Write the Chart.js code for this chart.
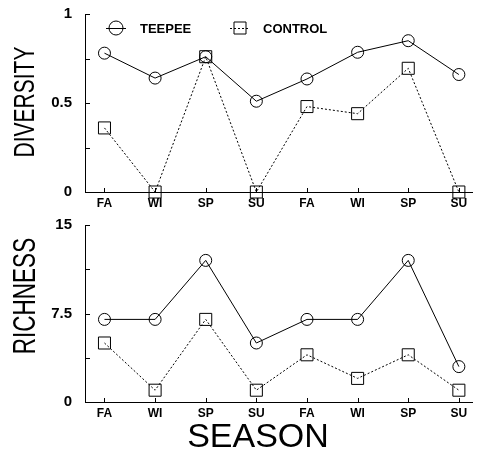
<!DOCTYPE html>
<html>
<head>
<meta charset="utf-8">
<title>Teepee vs Control</title>
<script src="https://cdn.jsdelivr.net/npm/chart.js@4.4.0/dist/chart.umd.min.js"></script>
<style>
  html, body { margin: 0; padding: 0; background: #fff; }
  .panel { position: relative; width: 482px; }
  #top-panel { height: 215px; }
  #bottom-panel { height: 237px; }
</style>
</head>
<body>
<div class="panel" id="top-panel"><canvas id="diversity-chart"></canvas></div>
<div class="panel" id="bottom-panel"><canvas id="richness-chart"></canvas></div>
<script>
// data
const seasons = ['FA', 'WI', 'SP', 'SU', 'FA', 'WI', 'SP', 'SU'];
const teepeeDiversity = [0.78, 0.64, 0.76, 0.51, 0.635, 0.785, 0.85, 0.66];
const controlDiversity = [0.36, 0, 0.76, 0, 0.48, 0.44, 0.695, 0];
const teepeeRichness = [7, 7, 12, 5, 7, 7, 12, 3];
const controlRichness = [5, 1, 7, 1, 4, 2, 4, 1];
const diversityTicks = [0, 0.25, 0.5, 0.75, 1];
const diversityLabels = ['0', '', '0.5', '', '1'];
const richnessTicks = [0, 3.75, 7.5, 11.25, 15];
const richnessLabels = ['0', '', '7.5', '', '15'];

const FONT = '"Liberation Sans", Arial, Helvetica, sans-serif';

// small inward tick marks on both axes
const inwardTicks = {
  id: 'inwardTicks',
  afterDatasetsDraw(chart) {
    const { ctx, chartArea, scales } = chart;
    ctx.save();
    ctx.strokeStyle = '#000';
    ctx.lineWidth = 1;
    ctx.beginPath();
    scales.y.ticks.forEach(t => {
      const y = Math.round(scales.y.getPixelForValue(t.value)) + 0.5;
      ctx.moveTo(chartArea.left, y);
      ctx.lineTo(chartArea.left + 5, y);
    });
    scales.x.ticks.forEach(t => {
      const x = Math.round(scales.x.getPixelForValue(t.value)) + 0.5;
      ctx.moveTo(x, chartArea.bottom);
      ctx.lineTo(x, chartArea.bottom - 4);
    });
    ctx.stroke();
    ctx.restore();
  }
};

// legend drawn inside the plot area, like the original figure
const insideLegend = {
  id: 'insideLegend',
  afterDraw(chart, args, opts) {
    if (!opts.items) return;
    const ctx = chart.ctx;
    const y = opts.y;
    ctx.save();
    chart.data.datasets.forEach((ds, i) => {
      const item = opts.items[i];
      ctx.strokeStyle = '#000';
      ctx.lineWidth = 1;
      ctx.setLineDash(ds.borderDash || []);
      ctx.beginPath();
      ctx.moveTo(item.x - 10, y + 0.5);
      ctx.lineTo(item.x + 10, y + 0.5);
      ctx.stroke();
      ctx.setLineDash([]);
      ctx.beginPath();
      if (ds.pointStyle === 'rect') {
        ctx.rect(item.x - 6, y - 6, 12, 12);
      } else {
        ctx.arc(item.x, y, 7, 0, Math.PI * 2);
      }
      ctx.stroke();
      ctx.fillStyle = '#000';
      ctx.font = 'bold 13px ' + FONT;
      ctx.textBaseline = 'middle';
      ctx.fillText(ds.label, item.textX, y + 1);
    });
    ctx.restore();
  }
};

// axis captions (DIVERSITY / RICHNESS / SEASON), placed as in the figure
const axisCaptions = {
  id: 'axisCaptions',
  afterDraw(chart, args, opts) {
    if (!opts.list) return;
    const ctx = chart.ctx;
    ctx.save();
    ctx.fillStyle = '#000';
    ctx.textAlign = 'center';
    ctx.textBaseline = 'middle';
    opts.list.forEach(c => {
      ctx.save();
      ctx.translate(c.x, c.y);
      if (c.rotate) ctx.rotate(-Math.PI / 2);
      ctx.scale(1, c.stretch || 1);
      ctx.font = c.size + 'px ' + FONT;
      ctx.fillText(c.text, 0, 0);
      ctx.restore();
    });
    ctx.restore();
  }
};

function makeDatasets(teepee, control) {
  return [
    {
      label: 'TEEPEE',
      data: teepee.map((v, i) => ({ x: i, y: v })),
      borderColor: '#000',
      borderWidth: 1,
      pointStyle: 'circle',
      pointRadius: 6,
      pointBorderColor: '#000',
      pointBackgroundColor: 'rgba(0,0,0,0)',
      pointBorderWidth: 1,
      clip: false
    },
    {
      label: 'CONTROL',
      data: control.map((v, i) => ({ x: i, y: v })),
      borderColor: '#000',
      borderWidth: 1,
      borderDash: [2, 2],
      pointStyle: 'rect',
      pointRadius: 8.5,
      pointBorderColor: '#000',
      pointBackgroundColor: 'rgba(0,0,0,0)',
      pointBorderWidth: 1,
      clip: false
    }
  ];
}

function buildChart(canvasId, cfg) {
  return new Chart(document.getElementById(canvasId), {
    type: 'line',
    data: { datasets: makeDatasets(cfg.teepee, cfg.control) },
    options: {
      responsive: true,
      maintainAspectRatio: false,
      animation: false,
      layout: { padding: { top: cfg.padTop, right: 0, left: 0, bottom: 0 } },
      plugins: {
        legend: { display: false },
        tooltip: { enabled: false },
        insideLegend: cfg.legend || {},
        axisCaptions: { list: cfg.captions }
      },
      scales: {
        x: {
          type: 'linear',
          min: -20 / 52,
          max: 7 + 14 / 52,
          afterBuildTicks: s => { s.ticks = seasons.map((_, i) => ({ value: i })); },
          afterFit: s => { s.height = cfg.xHeight; },
          grid: { display: false, drawTicks: false },
          border: { display: true, color: '#000', width: 1 },
          ticks: {
            autoSkip: false,
            maxRotation: 0,
            padding: 4,
            color: '#000',
            font: { family: FONT, size: 12, weight: 'bold' },
            callback: v => seasons[v]
          }
        },
        y: {
          min: 0,
          max: cfg.yMax,
          afterBuildTicks: s => { s.ticks = cfg.yTicks.map(v => ({ value: v })); },
          afterFit: s => {
            s.width = 85;
            s.paddingTop = 0;
            s.paddingBottom = 0;
          },
          grid: { display: false, drawTicks: false },
          border: { display: true, color: '#000', width: 1 },
          ticks: {
            autoSkip: false,
            padding: 13,
            color: '#000',
            font: { family: FONT, size: 15, weight: 'bold' },
            callback: (v, i) => cfg.yLabels[i]
          }
        }
      }
    },
    plugins: [inwardTicks, insideLegend, axisCaptions]
  });
}

buildChart('diversity-chart', {
  teepee: teepeeDiversity,
  control: controlDiversity,
  yMax: 1,
  yTicks: diversityTicks,
  yLabels: diversityLabels,
  padTop: 14,
  xHeight: 23,
  legend: { y: 28, items: [{ x: 116, textX: 140 }, { x: 240, textX: 263 }] },
  captions: [{ text: 'DIVERSITY', x: 26, y: 102, size: 21, rotate: true, stretch: 1.4 }]
});

buildChart('richness-chart', {
  teepee: teepeeRichness,
  control: controlRichness,
  yMax: 15,
  yTicks: richnessTicks,
  yLabels: richnessLabels,
  padTop: 10,
  xHeight: 50,
  captions: [
    { text: 'RICHNESS', x: 26, y: 81, size: 22.5, rotate: true, stretch: 1.4 },
    { text: 'SEASON', x: 258, y: 223, size: 34 }
  ]
});
</script>
</body>
</html>
